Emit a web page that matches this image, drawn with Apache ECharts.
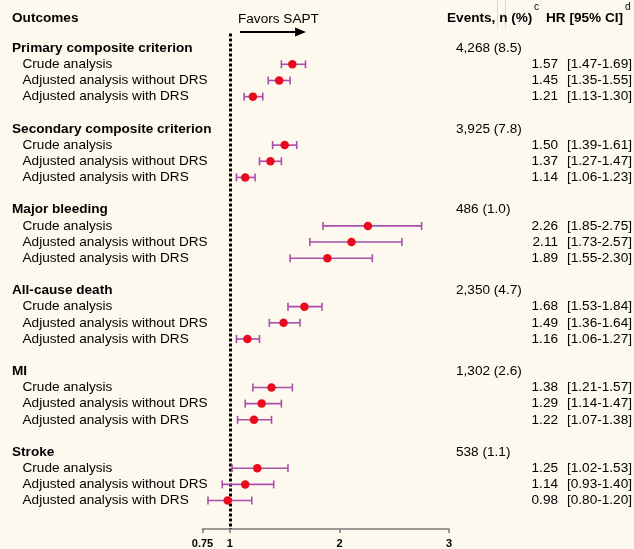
<!DOCTYPE html>
<html>
<head>
<meta charset="utf-8">
<script src="https://cdn.jsdelivr.net/npm/echarts@6/dist/echarts.min.js"></script>
<style>
html,body{margin:0;padding:0;background:#fef9ef;}
#chart{width:634px;height:549px;}
</style>
</head>
<body>
<div id="chart"></div>
<script>
var outcomes = ['Primary composite criterion','Secondary composite criterion','Major bleeding','All-cause death','MI','Stroke'];
var events = ['4,268 (8.5)','3,925 (7.8)','486 (1.0)','2,350 (4.7)','1,302 (2.6)','538 (1.1)'];
var analyses = ['Crude analysis','Adjusted analysis without DRS','Adjusted analysis with DRS'];
var hr = [1.57,1.45,1.21, 1.50,1.37,1.14, 2.26,2.11,1.89, 1.68,1.49,1.16, 1.38,1.29,1.22, 1.25,1.14,0.98];
var lo = [1.47,1.35,1.13, 1.39,1.27,1.06, 1.85,1.73,1.55, 1.53,1.36,1.06, 1.21,1.14,1.07, 1.02,0.93,0.80];
var hi = [1.69,1.55,1.30, 1.61,1.47,1.23, 2.75,2.57,2.30, 1.84,1.64,1.27, 1.57,1.47,1.38, 1.53,1.40,1.20];
var xTicks = [0.75, 1, 2, 3];

var FONT = '"Liberation Sans", Arial, sans-serif';
var FS = '13.6px ';
var PURPLE = '#a94ea9';
var RED = '#ea0a1e';

var headerRows = [], subRows = [];
outcomes.forEach(function(o, g){
  headerRows.push({row: g*5, label: o, ev: events[g]});
  analyses.forEach(function(a, k){
    var i = g*3 + k;
    subRows.push({row: g*5 + 1 + k, label: a, i: i});
  });
});

function fmt(v){ return v.toFixed(2); }

function textSeries(items, x, align, getText, bold){
  return {
    type: 'custom',
    coordinateSystem: 'cartesian2d',
    clip: false,
    silent: true,
    data: items.map(function(it, j){ return [1, it.row, j]; }),
    encode: {x: 0, y: 1},
    renderItem: function(params, api){
      var y = api.coord([1, api.value(1)])[1];
      var it = items[api.value(2)];
      return {
        type: 'text',
        x: x, y: y,
        style: {
          text: getText(it),
          fill: '#000',
          font: (bold ? 'bold ' : '') + FS + FONT,
          textAlign: align,
          textVerticalAlign: 'middle'
        }
      };
    },
    z: 5
  };
}

var chart = echarts.init(document.getElementById('chart'));
var option = {
  backgroundColor: '#fef9ef',
  animation: false,
  grid: {left: 202.5, right: 185, top: 32, bottom: 19.7, containLabel: false},
  xAxis: {
    type: 'value', min: 0.75, max: 3, position: 'bottom',
    splitLine: {show: false},
    axisLine: {show: true, onZero: false, lineStyle: {color: '#7a7a7a', width: 1.5}},
    axisTick: {show: true, customValues: xTicks, length: 4, lineStyle: {color: '#7a7a7a', width: 1.5}},
    axisLabel: {show: true, customValues: xTicks, margin: 9, color: '#000', fontWeight: 'bold', fontSize: 11, fontFamily: FONT,
      formatter: function(v){ return String(v); }}
  },
  yAxis: {
    type: 'value', inverse: true, min: -1, max: 29.76,
    show: false
  },
  series: [
    {
      type: 'custom',
      coordinateSystem: 'cartesian2d',
      clip: false,
      data: subRows.map(function(r){ return [lo[r.i], hi[r.i], r.row]; }),
      encode: {x: [0, 1], y: 2},
      renderItem: function(params, api){
        var p1 = api.coord([api.value(0), api.value(2)]);
        var p2 = api.coord([api.value(1), api.value(2)]);
        var st = {stroke: PURPLE, lineWidth: 1.6};
        var h = 4;
        return {type: 'group', children: [
          {type: 'line', shape: {x1: p1[0], y1: p1[1], x2: p2[0], y2: p2[1]}, style: st},
          {type: 'line', shape: {x1: p1[0], y1: p1[1]-h, x2: p1[0], y2: p1[1]+h}, style: st},
          {type: 'line', shape: {x1: p2[0], y1: p2[1]-h, x2: p2[0], y2: p2[1]+h}, style: st}
        ]};
      },
      z: 3
    },
    {
      type: 'scatter',
      data: subRows.map(function(r){ return [hr[r.i], r.row]; }),
      symbol: 'circle',
      symbolSize: 8.5,
      itemStyle: {color: RED, opacity: 1},
      z: 4,
      markLine: {
        silent: true,
        symbol: 'none',
        label: {show: false},
        lineStyle: {color: '#000', type: [3, 2], width: 3},
        data: [[{coord: [1, -0.9]}, {coord: [1, 29.76]}]],
        z: 2
      }
    },
    textSeries(headerRows, 12, 'left', function(it){ return it.label; }, true),
    textSeries(headerRows, 456, 'left', function(it){ return it.ev; }, false),
    textSeries(subRows, 22.5, 'left', function(it){ return it.label; }, false),
    textSeries(subRows, 558, 'right', function(it){ return fmt(hr[it.i]); }, false),
    textSeries(subRows, 567, 'left', function(it){ return '[' + fmt(lo[it.i]) + '-' + fmt(hi[it.i]) + ']'; }, false)
  ],
  graphic: [
    {type: 'text', left: 12, top: 11, style: {text: 'Outcomes', font: 'bold ' + FS + FONT, fill: '#000'}},
    {type: 'text', left: 238, top: 12, style: {text: 'Favors SAPT', font: FS + FONT, fill: '#000'}},
    {type: 'line', shape: {x1: 240, y1: 32, x2: 297, y2: 32}, style: {stroke: '#000', lineWidth: 2}},
    {type: 'polygon', shape: {points: [[295, 27.5], [306, 32], [295, 36.5]]}, style: {fill: '#000'}},
    {type: 'line', shape: {x1: 497.5, y1: 0, x2: 497.5, y2: 28}, style: {stroke: '#d8d8d8', lineWidth: 1}},
    {type: 'line', shape: {x1: 505.5, y1: 0, x2: 505.5, y2: 28}, style: {stroke: '#d8d8d8', lineWidth: 1}},
    {type: 'text', left: 447, top: 11, style: {text: 'Events, n (%)', font: 'bold ' + FS + FONT, fill: '#000'}},
    {type: 'text', left: 534, top: 2, style: {text: 'c', font: '10px ' + FONT, fill: '#000'}},
    {type: 'text', left: 546, top: 11, style: {text: 'HR [95% CI]', font: 'bold ' + FS + FONT, fill: '#000'}},
    {type: 'text', left: 625, top: 2, style: {text: 'd', font: '10px ' + FONT, fill: '#000'}}
  ]
};
chart.setOption(option);
</script>
</body>
</html>
